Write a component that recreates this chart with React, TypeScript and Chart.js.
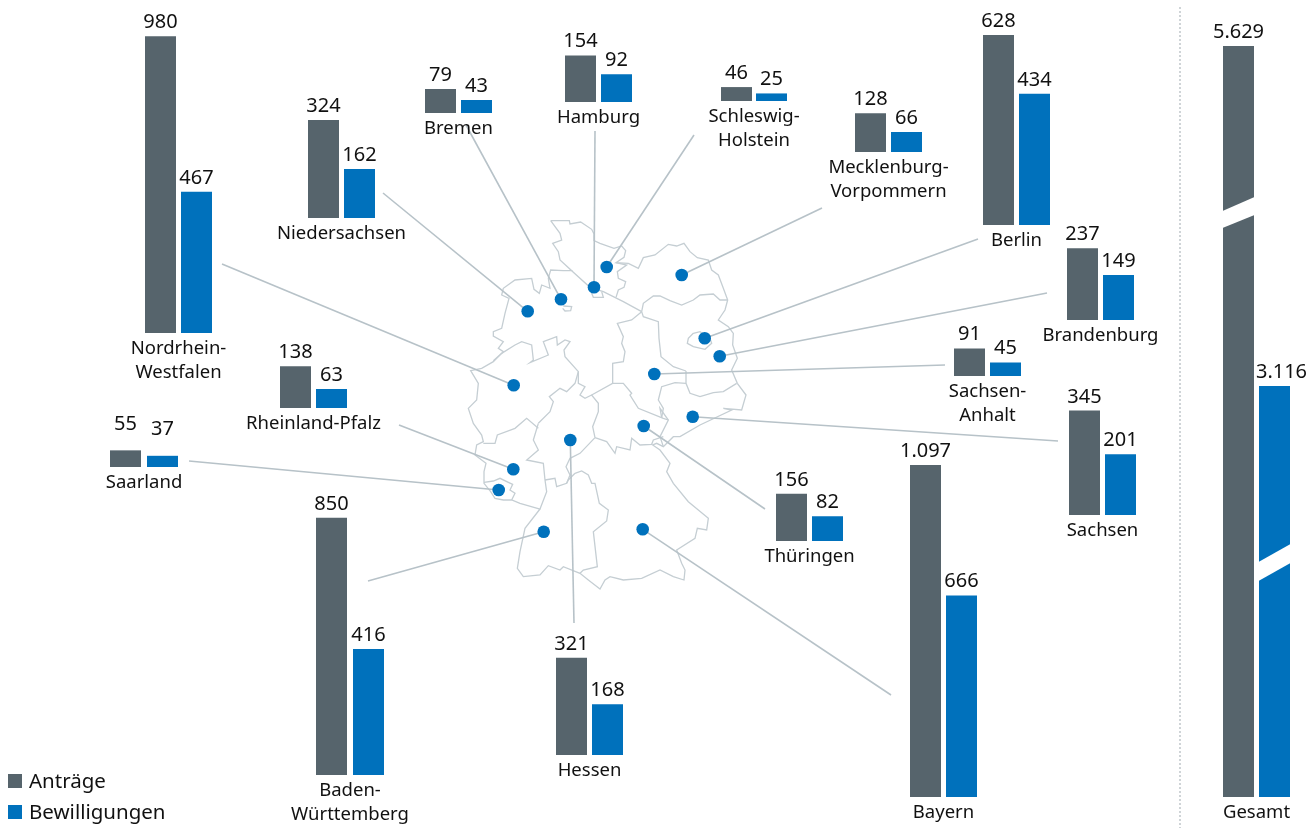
import React, { useEffect, useRef } from "react";
import { Chart, registerables, LinearScale } from "chart.js";

const PAGE_W = 1315;
const PAGE_H = 828;
const FONT = "'Noto Sans'";
const GRAY = "#56646c";
const BLUE = "#0071bc";
const OUTLINE = "#c5ced3";
const LEADER = "#b7c2c8";
const PX_PER_UNIT = 0.3027;

// ---- data ----
const categories = ["Anträge", "Bewilligungen"];
const states = ["Nordrhein-Westfalen", "Niedersachsen", "Bremen", "Hamburg", "Schleswig-Holstein", "Mecklenburg-Vorpommern", "Berlin", "Brandenburg", "Sachsen-Anhalt", "Sachsen", "Thüringen", "Bayern", "Hessen", "Baden-Württemberg", "Rheinland-Pfalz", "Saarland"];
const antraege = [980, 324, 79, 154, 46, 128, 628, 237, 91, 345, 156, 1097, 321, 850, 138, 55];
const bewilligungen = [467, 162, 43, 92, 25, 66, 434, 149, 45, 201, 82, 666, 168, 416, 63, 37];
const labelLines = [["Nordrhein-", "Westfalen"], ["Niedersachsen"], ["Bremen"], ["Hamburg"], ["Schleswig-", "Holstein"], ["Mecklenburg-", "Vorpommern"], ["Berlin"], ["Brandenburg"], ["Sachsen-", "Anhalt"], ["Sachsen"], ["Thüringen"], ["Bayern"], ["Hessen"], ["Baden-", "Württemberg"], ["Rheinland-Pfalz"], ["Saarland"]];
const gesamtLabel = "Gesamt";
const gesamtValues = [5629, 3116];

// panel placement: left edge of the first bar, baseline, bar gap
const panelLeft = [145, 308, 425, 565, 721, 855, 983, 1067, 954, 1069, 776, 910, 556, 316, 280, 110];
const panelBase = [333, 218, 113, 102, 101, 152, 225, 320, 376, 515, 541, 797, 755, 775, 408, 467];
const panelGap = [5, 5, 5, 5, 4, 5, 5, 5, 5, 5, 5, 5, 5, 6, 5, 6];

// map marker per state
const dotX = [513.7, 527.7, 561, 594, 606.7, 681.7, 704.7, 719.7, 654.3, 692.7, 643.7, 642.7, 570.3, 543.7, 513.3, 498.7];
const dotY = [385.3, 311.3, 299.3, 287.3, 267, 275, 338.3, 356.3, 374, 416.7, 426, 529.3, 440, 531.7, 469.3, 490];
const leaderX = [222, 383, 466, 595, 694, 822, 978, 1047, 945, 1058, 765, 891, 574, 368, 399, 189];
const leaderY = [264, 193, 125, 131, 135, 208, 239, 293, 365, 441, 509, 695, 623, 581, 425, 461];

// map outlines in tracing units: x = 460 + u / 3, y = 210 + v / 3
const outlines: number[][] = [
  // outer border
  [272,32,328,32,330,42,362,36,395,58,402,72,402,92,420,100,462,115,485,108,497,122,492,142,468,158,505,160,535,175,550,143,585,135,625,103,650,108,672,100,690,125,712,143,745,150,755,180,775,195,790,235,803,270,795,300,785,315,775,330,805,350,820,370,818,405,832,445,815,480,832,520,858,555,845,600,790,595,815,600,720,645,660,680,640,680,610,710,590,700,578,705,600,720,630,760,620,785,640,820,685,875,715,900,745,925,740,960,712,955,705,985,650,1020,665,1060,675,1080,672,1110,640,1100,600,1080,545,1105,490,1110,450,1100,435,1110,420,1137,385,1110,360,1090,310,1070,300,1080,265,1067,240,1095,190,1100,172,1075,180,1025,195,955,240,897,180,880,155,870,130,870,105,865,92,845,72,820,72,785,78,760,45,735,50,705,70,695,65,675,40,640,25,595,50,570,55,520,32,482,65,475,100,455,130,425,115,415,130,395,100,378,100,365,125,355,135,310,147,265,125,255,130,235,165,210,215,205,222,238,238,250,245,225,270,235,265,205,272,180,310,182,335,182,300,150,295,125,278,100,305,90,300,70,272,32],
  // Elbe line
  [335,182,390,232,430,245,490,275,545,305],
  // Schleswig-Holstein / Mecklenburg-Vorpommern
  [468,158,500,165,472,185,475,205,497,215,492,232,475,240,468,262],
  // Hamburg
  [395,250,400,262,430,262,425,245],
  // Bremen
  [310,288,335,290,332,302,315,303,308,295],
  // Mecklenburg-Vorpommern / Brandenburg
  [545,305,550,280,580,258,600,258,630,272,665,285,700,270,720,255,760,252,780,270,803,270],
  // Brandenburg / Sachsen-Anhalt
  [545,305,550,320,595,335,597,385,603,440,640,470,678,483],
  // Brandenburg / Sachsen
  [678,483,678,520,690,550,720,560,760,548,790,545,830,520],
  // Sachsen-Anhalt / Thüringen
  [678,520,645,518,605,530,595,570,610,595,605,623],
  // Sachsen-Anhalt / Niedersachsen
  [545,305,515,330,472,340,490,380,485,400,495,425,490,455,458,460,458,520,395,555],
  // Thüringen north
  [458,520,490,520,515,550,510,555,535,595,610,625,625,630],
  // Nordrhein-Westfalen / Niedersachsen
  [100,452,125,430,165,405,185,395,215,405,220,450,210,458,265,435,250,395,290,380,292,405,315,390,330,395,312,420,315,440,355,485,345,520,320,545,300,535,268,560,280,575,270,605,235,640],
  // Niedersachsen / Hessen
  [355,485,355,520,375,530,360,555,375,565,395,555,415,580,415,605,398,650,405,683],
  // Nordrhein-Westfalen / Rheinland-Pfalz
  [70,700,105,700,112,675,165,655,200,625,235,655],
  // Rheinland-Pfalz / Hessen
  [235,640,220,690,235,720,200,750,250,760,255,810],
  // Hessen / Baden-Württemberg
  [255,810,285,805,290,830,320,820,325,810,345,790],
  // Hessen / Bayern
  [320,820,330,795,318,770,330,745,360,730,405,683],
  // Thüringen / Bayern
  [405,683,440,695,465,730,470,710,510,720,515,685,540,705,575,703,580,690,610,680],
  // Thüringen / Sachsen
  [610,710,600,680,625,630,600,595,605,623],
  // Baden-Württemberg / Bayern
  [345,790,365,783,385,795,395,820,405,820,418,880,445,900,440,933,400,965,412,1070,370,1080,360,1090],
  // Rheinland-Pfalz / Baden-Württemberg
  [255,810,260,845,240,897],
  // Saarland
  [72,817,100,813,120,805,145,817,158,823,150,840,165,850,155,870],
  // Berlin
  [700,370,685,385,682,400,700,410,735,418,755,400,750,385,720,365,700,370],
];

const dividerX = 1180;
const dividerTop = 7;
const legendItems = ["Anträge", "Bewilligungen"];

// Gesamt uses an interrupted axis: value -> share of the drawn height
const gesamtStops = [[0, 0], [3116, 0.5473], [5629, 1]];

class BrokenScale extends LinearScale {
  static id = "broken";
  static defaults = (LinearScale as any).defaults;
  getPixelForValue(v: number) {
    let frac = 1;
    for (let i = 1; i < gesamtStops.length; i++) {
      const [a, fa] = gesamtStops[i - 1];
      const [b, fb] = gesamtStops[i];
      if (v <= b) {
        frac = fa + ((v - a) / (b - a)) * (fb - fa);
        break;
      }
    }
    const self = this as any;
    return self.bottom - frac * (self.bottom - self.top);
  }
}
Chart.register(...registerables, BrokenScale as any);

const fmt = (n: number) => String(n).replace(/\B(?=(\d{3})+$)/g, ".");
const fromTrace = (u: number[]) => {
  const pts: { x: number; y: number }[] = [];
  for (let i = 0; i < u.length; i += 2) pts.push({ x: 460 + u[i] / 3, y: 210 + u[i + 1] / 3 });
  return pts;
};

const labelPlugin = {
  id: "panelLabels",
  afterDatasetsDraw(chart: any, _a: any, opts: any) {
    const { ctx, chartArea } = chart;
    ctx.save();
    ctx.fillStyle = "#111";
    ctx.textAlign = "center";
    ctx.textBaseline = "alphabetic";
    ctx.font = `20px ${FONT}`;
    chart.getDatasetMeta(0).data.forEach((bar: any, i: number) => {
      const lift = opts.lift ? opts.lift[i] : 0;
      const dx = opts.shift ? opts.shift[i] : 0;
      ctx.fillText(fmt(chart.data.datasets[0].data[i]), bar.x + dx, bar.y - 8 - lift);
    });
    ctx.font = `18.5px ${FONT}`;
    const cx = (chartArea.left + chartArea.right) / 2;
    opts.lines.forEach((t: string, i: number) => {
      ctx.fillText(t, cx, chartArea.bottom + 20.5 + i * 24);
    });
    ctx.restore();
  },
};

const breakPlugin = {
  id: "axisBreaks",
  afterDatasetsDraw(chart: any, _a: any, opts: any) {
    if (!opts.bands) return;
    const { ctx, chartArea } = chart;
    ctx.save();
    ctx.fillStyle = "#fff";
    chart.getDatasetMeta(0).data.forEach((bar: any, i: number) => {
      const [ul, ur, lr, ll] = opts.bands[i];
      const l = bar.x - bar.width / 2 - 0.5;
      const r = bar.x + bar.width / 2 + 0.5;
      const b = chartArea.bottom;
      ctx.beginPath();
      ctx.moveTo(l, b - ul);
      ctx.lineTo(r, b - ur);
      ctx.lineTo(r, b - lr);
      ctx.lineTo(l, b - ll);
      ctx.closePath();
      ctx.fill();
    });
    ctx.restore();
  },
};

const legendPlugin = {
  id: "pageLegend",
  afterDatasetsDraw(chart: any) {
    const { ctx } = chart;
    ctx.save();
    ctx.textBaseline = "alphabetic";
    ctx.textAlign = "left";
    ctx.font = `20.5px ${FONT}`;
    legendItems.forEach((t, i) => {
      const y = 774 + i * 31;
      ctx.fillStyle = i === 0 ? GRAY : BLUE;
      ctx.fillRect(8, y, 14, 14);
      ctx.fillStyle = "#111";
      ctx.fillText(t, 29, y + 13.5);
    });
    ctx.restore();
  },
};

function Panel(props: { left: number; base: number; gap: number; values: number[]; lines: string[]; broken?: boolean; lift?: number[]; shift?: number[]; bands?: number[][] }) {
  const ref = useRef<HTMLCanvasElement>(null);
  const { left, base, gap, values, lines, broken, lift, shift, bands } = props;
  const W = 200;
  const plotW = 62 + 2 * gap;
  const padL = 64 - gap / 2;
  const padT = 34;
  const padB = 62;
  const plotH = broken ? 751 : Math.ceil(Math.max(...values) * PX_PER_UNIT) + 2;
  const H = padT + plotH + padB;
  useEffect(() => {
    const chart = new Chart(ref.current as HTMLCanvasElement, {
      type: "bar",
      data: {
        labels: categories,
        datasets: [{ data: values, backgroundColor: [GRAY, BLUE], barThickness: 31, borderWidth: 0, inflateAmount: 0 }],
      },
      options: {
        animation: false,
        responsive: false,
        layout: { autoPadding: false, padding: { left: padL, right: W - padL - plotW, top: padT, bottom: padB } },
        scales: {
          x: { display: false },
          y: broken
            ? { type: "broken", display: false, min: 0, max: gesamtValues[0] }
            : { display: false, min: 0, max: plotH / PX_PER_UNIT },
        },
        plugins: {
          legend: { display: false },
          tooltip: { enabled: false },
          panelLabels: { lines, lift, shift },
          axisBreaks: { bands },
        },
      } as any,
      plugins: [labelPlugin, breakPlugin],
    } as any);
    return () => chart.destroy();
  }, []);
  return (
    <canvas
      ref={ref}
      width={W}
      height={H}
      style={{ position: "absolute", left: left - 64, top: base - plotH - padT, width: W, height: H }}
    />
  );
}

function MapChart() {
  const ref = useRef<HTMLCanvasElement>(null);
  useEffect(() => {
    const datasets: any[] = [];
    outlines.forEach((o) =>
      datasets.push({ data: fromTrace(o), showLine: true, borderColor: OUTLINE, borderWidth: 1.3, pointRadius: 0, order: 4 })
    );
    states.forEach((s, i) =>
      datasets.push({
        label: s,
        data: [{ x: dotX[i], y: dotY[i] }, { x: leaderX[i], y: leaderY[i] }],
        showLine: true,
        borderColor: LEADER,
        borderWidth: 1.6,
        pointRadius: 0,
        order: 3,
      })
    );
    datasets.push({
      data: [{ x: dividerX, y: dividerTop }, { x: dividerX, y: PAGE_H }],
      showLine: true,
      borderColor: "#cfd4d7",
      borderWidth: 2,
      borderDash: [2, 2],
      pointRadius: 0,
      order: 5,
    });
    datasets.push({
      data: dotX.map((x, i) => ({ x, y: dotY[i] })),
      showLine: false,
      pointRadius: 6.3,
      pointBackgroundColor: BLUE,
      pointBorderWidth: 0,
      order: 1,
    });
    const chart = new Chart(ref.current as HTMLCanvasElement, {
      type: "scatter",
      data: { datasets },
      options: {
        animation: false,
        responsive: false,
        layout: { autoPadding: false, padding: 0 },
        scales: {
          x: { type: "linear", display: false, min: 0, max: PAGE_W },
          y: { type: "linear", display: false, min: 0, max: PAGE_H, reverse: true },
        },
        plugins: { legend: { display: false }, tooltip: { enabled: false } },
      } as any,
      plugins: [legendPlugin],
    } as any);
    return () => chart.destroy();
  }, []);
  return <canvas ref={ref} width={PAGE_W} height={PAGE_H} style={{ position: "absolute", left: 0, top: 0, width: PAGE_W, height: PAGE_H }} />;
}

export default function App() {
  return (
    <div style={{ position: "fixed", left: 0, top: 0, width: PAGE_W, height: PAGE_H, overflow: "hidden", background: "#fff" }}>
      <MapChart />
      {states.map((s, i) => (
        <Panel
          key={s}
          left={panelLeft[i]}
          base={panelBase[i]}
          gap={panelGap[i]}
          values={[antraege[i], bewilligungen[i]]}
          lines={labelLines[i]}
          lift={s === "Saarland" ? [12, 13] : undefined}
        />
      ))}
      <Panel
        left={1223}
        base={797}
        gap={5}
        values={gesamtValues}
        lines={[gesamtLabel]}
        broken
        shift={[0, 7]}
        bands={[[586, 600, 582, 569], [235, 253, 234, 216]]}
      />
    </div>
  );
}
